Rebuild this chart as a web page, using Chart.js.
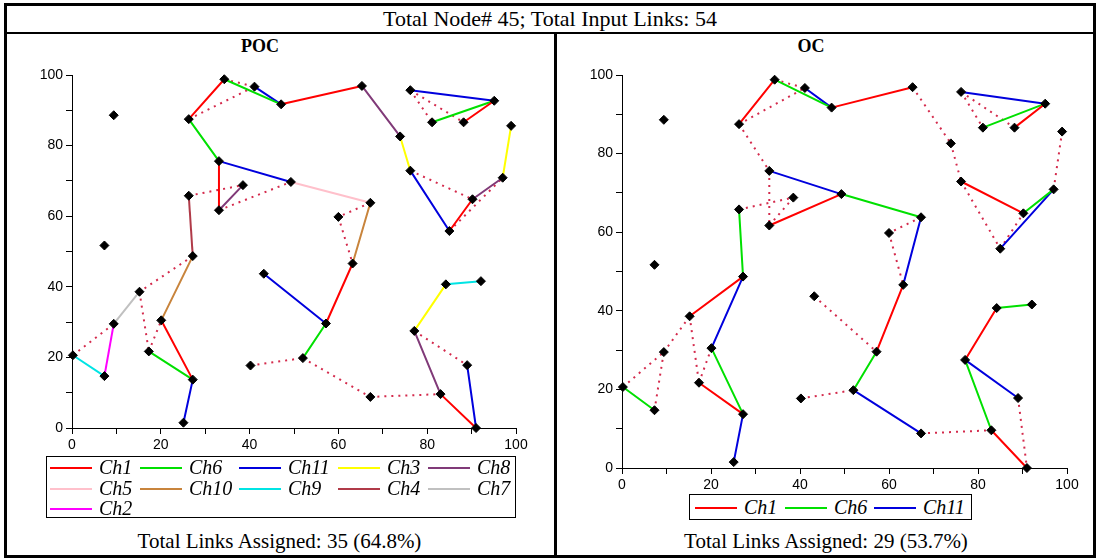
<!DOCTYPE html>
<html lang="en">
<head>
<meta charset="UTF-8">
<title>POC / OC channel assignment</title>
<script src="https://cdn.jsdelivr.net/npm/chart.js"></script>
<style>
  body { margin:0; width:1098px; height:559px; background:#fff; position:relative; overflow:hidden;
         font-family:"Liberation Serif","Times New Roman",serif; color:#000; }
  .frame { position:absolute; left:4px; top:3px; width:1092px; height:555px; border:3px solid #000; box-sizing:border-box; }
  .hline { position:absolute; left:4px; top:32px; width:1092px; height:2px; background:#000; }
  .vline { position:absolute; left:554px; top:33px; width:3px; height:525px; background:#000; }
  .header { position:absolute; left:4px; top:6px; width:1092px; height:26px; line-height:26px; text-align:center; font-size:22px; }
  .title { position:absolute; top:36px; height:20px; line-height:20px; text-align:center; font-weight:bold; font-size:18px; }
  .footer { position:absolute; top:529px; height:24px; line-height:24px; text-align:center; font-size:21px; }
  canvas { position:absolute; }
  .legend { position:absolute; border:1px solid #000; box-sizing:border-box; background:#fff; }
  .item { position:absolute; height:20px; line-height:20px; font-size:20px; font-style:italic; white-space:nowrap; }
  .item .ln { display:inline-block; width:42px; height:2px; vertical-align:middle; margin-right:7px; position:relative; top:-1px; }
</style>
</head>
<body>
<div class="frame"></div>
<div class="hline"></div>
<div class="vline"></div>
<div class="header">Total Node# 45; Total Input Links: 54</div>

<!-- titles sit over the chart controls (panel edge to plot right edge) -->
<div class="title" style="left:4px;width:512px;">POC</div>
<div class="title" style="left:556px;width:510px;">OC</div>

<canvas id="poc" width="540" height="395" style="left:10px;top:62px;"></canvas>
<canvas id="oc" width="532" height="435" style="left:561px;top:62px;"></canvas>

<div class="legend" id="pocLegend" style="left:46px;top:456px;width:470px;height:62px;"></div>
<div class="legend" id="ocLegend" style="left:689px;top:494px;width:283px;height:26px;"></div>

<div class="footer" style="left:4px;width:551px;">Total Links Assigned: 35 (64.8%)</div>
<div class="footer" style="left:556px;width:540px;">Total Links Assigned: 29 (53.7%)</div>

<script>
// node positions (45 nodes)
const nodeX = [9.4, 34.3, 41.1, 26.3, 33.1, 38.5, 26.3, 33.1, 7.3, 47.1,
               65.3, 73.9, 76.2, 49.3, 67.2, 60.0, 85.0, 90.2, 97.0, 98.9,
               76.2, 95.1, 81.1, 88.2, 27.2, 15.2, 9.4, 20.1, 0.2, 17.3,
               7.3, 27.2, 25.1, 40.2, 43.2, 63.2, 57.2, 52.0, 67.2, 83.0,
               91.0, 89.0, 77.1, 84.2, 92.1];
const nodeY = [88.6, 98.8, 96.7, 87.5, 75.6, 68.8, 65.8, 61.7, 51.7, 91.7,
               96.9, 82.6, 72.9, 69.7, 63.8, 59.8, 55.8, 64.8, 70.9, 85.6,
               95.7, 92.7, 86.6, 86.6, 48.7, 38.6, 29.5, 30.5, 20.6, 21.7,
               14.7, 13.7, 1.5, 17.7, 43.7, 46.6, 29.6, 19.8, 8.8, 9.6,
               0, 17.8, 27.5, 40.7, 41.6];

const chNames  = ['Ch1', 'Ch6', 'Ch11', 'Ch3', 'Ch8', 'Ch5', 'Ch10', 'Ch9', 'Ch4', 'Ch7', 'Ch2'];
const chColors = ['#ff0000', '#00e000', '#0000dd', '#ffff00', '#803a78', '#ffc0cb', '#c8843c', '#00e4e4', '#b03a48', '#c0c0c0', '#ff00ff'];

// POC links, node index pairs per channel
const pocCh1  = [[3,1],[9,10],[4,7],[21,23],[16,17],[27,31],[36,35],[39,40]];
const pocCh6  = [[1,9],[3,4],[21,22],[29,31],[37,36]];
const pocCh11 = [[2,9],[4,13],[20,21],[12,16],[32,31],[34,36],[41,40]];
const pocCh3  = [[11,12],[19,18],[42,43]];
const pocCh8  = [[10,11],[17,18],[42,39],[7,5]];
const pocCh5  = [[13,14]];
const pocCh10 = [[14,35],[24,27]];
const pocCh9  = [[28,30],[43,44]];
const pocCh4  = [[6,24]];
const pocCh7  = [[26,25]];
const pocCh2  = [[30,26]];
const pocFree = [[3,2],[1,2],[6,5],[7,13],[20,22],[20,23],[12,17],[16,18],[14,15],
                 [15,35],[24,25],[28,26],[25,29],[29,27],[33,37],[37,38],[38,39],[42,41]];

// OC links
const ocCh1  = [[3,1],[9,10],[21,23],[7,13],[35,36],[12,17],[42,43],[39,40],[25,24],[29,31]];
const ocCh6  = [[1,9],[21,22],[13,14],[36,37],[17,18],[43,44],[42,39],[28,30],[27,31],[6,24]];
const ocCh11 = [[2,9],[20,21],[4,13],[14,35],[37,38],[18,16],[42,41],[24,27],[31,32]];
const ocFree = [[3,2],[1,2],[3,4],[4,7],[6,5],[7,5],[10,11],[11,12],[20,22],[20,23],
                [19,18],[12,16],[14,15],[28,26],[26,25],[30,26],[25,29],[29,27],[33,37],
                [15,35],[34,36],[38,39],[41,40],[16,17]];

const pocLinks = [pocCh1, pocCh6, pocCh11, pocCh3, pocCh8, pocCh5, pocCh10, pocCh9, pocCh4, pocCh7, pocCh2];
const ocLinks  = [ocCh1, ocCh6, ocCh11];

function segs(pairs) {
  const out = [];
  pairs.forEach(p => {
    out.push({x: nodeX[p[0]], y: nodeY[p[0]]});
    out.push({x: nodeX[p[1]], y: nodeY[p[1]]});
    out.push({x: null, y: null});
  });
  return out;
}

const tickFont = {family: 'Liberation Sans', size: 14};

function axis(fitFn) {
  return {
    type: 'linear', min: 0, max: 100,
    ticks: {stepSize: 10, autoSkip: false, maxRotation: 0, color: '#000', font: tickFont, padding: 3,
            callback: v => (v % 20 === 0 ? String(v) : '')},
    grid: {drawOnChartArea: false, tickLength: 6, color: '#000'},
    border: {color: '#000', width: 1},
    afterFit: fitFn
  };
}

function makeChart(id, links, free, padRight) {
  const datasets = [];
  datasets.push({
    label: 'nodes', data: nodeX.map((x, i) => ({x: x, y: nodeY[i]})),
    pointStyle: 'rectRot', pointRadius: 4.5, backgroundColor: '#000', borderColor: '#000',
    borderWidth: 1, showLine: false, clip: false, order: 0
  });
  links.forEach((pairs, i) => {
    datasets.push({
      label: chNames[i], data: segs(pairs), showLine: true, borderColor: chColors[i],
      borderWidth: 2, pointRadius: 0, clip: false, order: 1
    });
  });
  datasets.push({
    label: 'unassigned', data: segs(free), showLine: true, borderColor: '#d42a4c',
    borderWidth: 2, borderDash: [2, 5], pointRadius: 0, clip: false, order: 2
  });

  return new Chart(document.getElementById(id), {
    type: 'scatter',
    data: {datasets: datasets},
    options: {
      responsive: false, animation: false, events: [],
      layout: {padding: {left: 0, top: 13, right: padRight, bottom: 0}},
      plugins: {legend: {display: false}, tooltip: {enabled: false}},
      scales: {
        x: axis(s => { s.height = 29; }),
        y: axis(s => { s.width = id === 'poc' ? 62 : 61; })
      }
    }
  });
}

makeChart('poc', pocLinks, pocFree, 34);
makeChart('oc', ocLinks, ocFree, 26);

// legends (boxed, grid-like)
function buildLegend(elId, count, cols, rows) {
  const box = document.getElementById(elId);
  for (let i = 0; i < count; i++) {
    const c = i % cols.length, r = Math.floor(i / cols.length);
    const it = document.createElement('div');
    it.className = 'item';
    it.style.left = cols[c] + 'px';
    it.style.top = (rows[r] - 10) + 'px';
    const ln = document.createElement('span');
    ln.className = 'ln';
    ln.style.background = chColors[i];
    it.appendChild(ln);
    it.appendChild(document.createTextNode(chNames[i]));
    box.appendChild(it);
  }
}
buildLegend('pocLegend', pocLinks.length, [3, 93, 192, 291, 381], [10, 31, 51]);
buildLegend('ocLegend', ocLinks.length, [5, 95, 184], [12]);
</script>
</body>
</html>
